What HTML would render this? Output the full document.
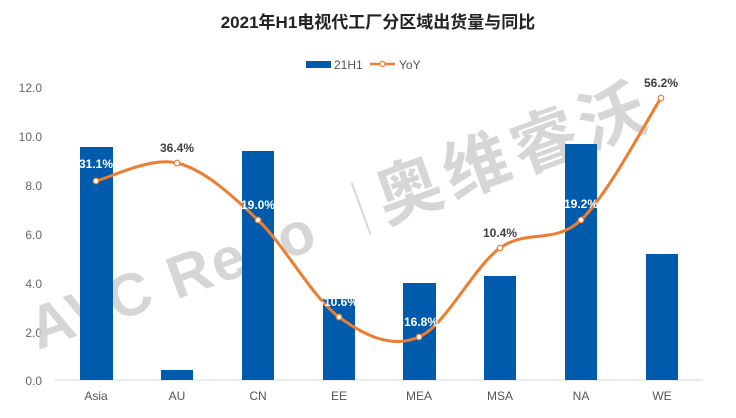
<!DOCTYPE html>
<html><head><meta charset="utf-8"><style>
html,body{margin:0;padding:0;background:#fff;}
svg text{font-family:"Liberation Sans","Noto Sans CJK SC",sans-serif;}
</style></head><body>
<svg width="736" height="413" xmlns="http://www.w3.org/2000/svg">
<text x="378" y="28" text-anchor="middle" font-size="17" font-weight="bold" fill="#222">2021年H1电视代工厂分区域出货量与同比</text>
<rect x="306" y="61" width="25" height="7" fill="#005bac"/>
<text x="334" y="69" font-size="12" fill="#555">21H1</text>
<line x1="370" y1="64" x2="395" y2="64" stroke="#ed7d31" stroke-width="2.5"/>
<circle cx="382.5" cy="64" r="2.5" fill="#fff" stroke="#ed7d31" stroke-width="1.2"/>
<text x="399" y="69" font-size="12" fill="#555">YoY</text>
<g font-size="12" fill="#666" text-anchor="end">
<text x="42" y="92">12.0</text><text x="42" y="141">10.0</text><text x="42" y="190">8.0</text>
<text x="42" y="239">6.0</text><text x="42" y="288">4.0</text><text x="42" y="337">2.0</text><text x="42" y="385">0.0</text>
</g>
<g transform="translate(38,350) rotate(-20)" fill="#d0d0d0" font-weight="bold" opacity="0.85">
<text x="0" y="0" font-size="60" letter-spacing="2">AVC Revo</text>
<line x1="352" y1="-50" x2="352" y2="5" stroke="#d0d0d0" stroke-width="2"/>
<text x="370" y="0" font-size="66" letter-spacing="6">奥维睿沃</text>
</g>
<line x1="55" y1="380" x2="703" y2="380" stroke="#d9d9d9" stroke-width="1"/>
<g fill="#005bac">
<rect x="80" y="147" width="33" height="233"/>
<rect x="161" y="370" width="32" height="10"/>
<rect x="242" y="151" width="32" height="229"/>
<rect x="323" y="299" width="32" height="81"/>
<rect x="403" y="283" width="33" height="97"/>
<rect x="484" y="276" width="32" height="104"/>
<rect x="565" y="144" width="32" height="236"/>
<rect x="646" y="254" width="32" height="126"/>
</g>
<path d="M96,181 C109.5,178 150,156.5 177,163 C204,169.5 231,194.3 258,220 C285,245.7 312.2,297.5 339,317 C365.8,336.5 392.2,348.5 419,337 C445.8,325.5 473,267.5 500,248 C527,228.5 554.2,245 581,220 C607.8,195 647.7,118.3 661,98" fill="none" stroke="#ed7d31" stroke-width="3"/>
<g fill="#fff" stroke="#ed7d31" stroke-width="1.2">
<circle cx="96" cy="181" r="2.8"/><circle cx="177" cy="163" r="2.8"/><circle cx="258" cy="220" r="2.8"/>
<circle cx="339" cy="317" r="2.8"/><circle cx="419" cy="337" r="2.8"/><circle cx="500" cy="248" r="2.8"/>
<circle cx="581" cy="220" r="2.8"/><circle cx="661" cy="98" r="2.8"/>
</g>
<g font-size="12" font-weight="bold" text-anchor="middle">
<text x="96" y="168" fill="#fff">31.1%</text>
<text x="177" y="152" fill="#404040">36.4%</text>
<text x="258" y="209" fill="#fff">19.0%</text>
<text x="339" y="306" fill="#fff">-10.6%</text>
<text x="419" y="326" fill="#fff">-16.8%</text>
<text x="500" y="237" fill="#404040">10.4%</text>
<text x="581" y="208" fill="#fff">19.2%</text>
<text x="661" y="87" fill="#404040">56.2%</text>
</g>
<g font-size="12" fill="#555" text-anchor="middle">
<text x="96" y="400">Asia</text><text x="177" y="400">AU</text><text x="258" y="400">CN</text>
<text x="339" y="400">EE</text><text x="419" y="400">MEA</text><text x="500" y="400">MSA</text>
<text x="581" y="400">NA</text><text x="662" y="400">WE</text>
</g>
</svg>
</body></html>
